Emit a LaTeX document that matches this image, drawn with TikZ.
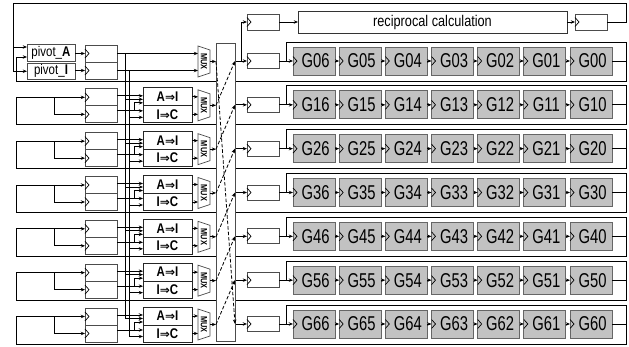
\documentclass[tikz,border=0pt]{standalone}
\usepackage{fontspec}
\setmainfont{Liberation Sans}
\newfontfamily\gfont[FakeStretch=0.74]{Liberation Sans}
\newfontfamily\nfont[FakeStretch=0.82]{Liberation Sans}
\newfontfamily\djv{DejaVu Sans}
\usetikzlibrary{arrows.meta,calc}
\begin{document}
\begin{tikzpicture}[x=1pt,y=-1pt,
  wire/.style={line width=0.75pt,draw=black},
  arr/.style={wire,-{Stealth[length=4.2pt,width=3.4pt]}},
  dasharr/.style={wire,line width=0.8pt,dash pattern=on 3.5pt off 2pt,-{Stealth[length=4.5pt,width=3.5pt]}},
  box/.style={draw=black!70,line width=0.75pt,fill=white,inner sep=0pt,outer sep=0pt},
  reg/.style={box,minimum width=32pt},
  gbox/.style={draw=black!60,line width=0.75pt,fill=black!24,inner sep=0pt,outer sep=0pt,minimum width=42pt,minimum height=28pt,font=\gfont\fontsize{20}{21}\selectfont},
  opbox/.style={box,draw=black!85,minimum width=49pt,font=\nfont\bfseries\fontsize{14}{15}\selectfont},
  muxlbl/.style={rotate=-90,inner sep=0pt,font=\nfont\bfseries\fontsize{9}{9}\selectfont},
  chev/.pic={\draw[line width=0.7pt] (0,-4.5) -- (4,0) -- (0,4.5);},
]
\useasboundingbox (0,0) rectangle (629,346);
\pgfmathsetmacro\cz{61}
\pgfmathsetmacro\cs{61+6*43.83}

% ---------- top: reciprocal path ----------
\node[reg,minimum height=16pt] (T1) at (263,22) {};
\pic at (T1.west) {chev};
\node[box,draw=black!80,minimum width=269pt,minimum height=22pt,font=\nfont\fontsize{15.5}{16}\selectfont] (Rec) at (432.5,22) {reciprocal calculation};
\node[reg,minimum height=16pt] (T2) at (591,22) {};
\pic at (T2.west) {chev};
\draw[arr] (T1.east) -- (Rec.west);
\draw[arr] (Rec.east) -- (T2.west);

% ---------- pivot boxes ----------
\node[box,minimum width=48pt,minimum height=17.5pt,font=\nfont\fontsize{14}{15}\selectfont] (pA) at (51,52.75) {pivot\_\textbf{A}};
\node[box,minimum width=48pt,minimum height=16.5pt,font=\nfont\fontsize{14}{15}\selectfont] (pI) at (51,71.25) {pivot\_\textbf{I}};
\draw[arr] (T2.east) -- (626,22) -- (626,3) -- (13,3) -- (13,71.25) -- (pI.west);
\draw[arr] (13,47) -- (pA.west |- 0,47);

% ---------- left registers ----------
\foreach \i in {0,...,6}{
  \pgfmathsetmacro\c{61+43.83*\i}
  \node[reg,minimum height=17pt] (Ra\i) at (101,\c-7.5) {};
  \node[reg,minimum height=17pt] (Rb\i) at (101,\c+9.5) {};
  \pic at (Ra\i.west) {chev};
  \pic at (Rb\i.west) {chev};
  % mux
  \draw[box] (198,\c-15) -- (210,\c-11) -- (210,\c+12) -- (198,\c+16) -- cycle;
  \node[muxlbl] (Mx\i) at (204,\c+0.5) {MUX};
  \coordinate (MO\i) at (210,\c+0.5);
  \coordinate (VL\i) at (216,\c+0.5);
  \coordinate (VR\i) at (235,\c);
  \draw[arr] (MO\i) -- (VL\i);
}
\draw[arr] (pA.east |- Ra0.west) -- (Ra0.west);
\draw[arr] (pI.east |- Rb0.west) -- (Rb0.west);
\draw[arr] (Ra0.east) -- (198,\cz-7.5);
\draw[arr] (Rb0.east) -- (198,\cz+9.5);
% pivot buses
\draw[wire] (125,\cz-7.5) -- (125,\cs-5.5);
\draw[wire] (129,\cz+9.5) -- (129,\cs+12.5);

\foreach \i in {1,...,6}{
  \pgfmathsetmacro\c{61+43.83*\i}
  \node[opbox,minimum height=18pt] (Ca\i) at (167.5,\c-8) {A{\djv\bfseries\fontsize{12}{13}\selectfont ⇒}I};
  \node[opbox,minimum height=17pt] (Cb\i) at (167.5,\c+9.5) {I{\djv\bfseries\fontsize{12}{13}\selectfont ⇒}C};
  \draw[arr] (Ra\i.east |- 0,\c-9) -- (Ca\i.west |- 0,\c-9);
  \draw[arr] (125,\c-5.5) -- (Ca\i.west |- 0,\c-5.5);
  \draw[arr] (Rb\i.east |- 0,\c+6) -- (Cb\i.west |- 0,\c+6);
  \draw[arr] (134,\c+6) -- (134,\c-2) -- (Ca\i.west |- 0,\c-2);
  \draw[arr] (129,\c+12.5) -- (Cb\i.west |- 0,\c+12.5);
  \draw[arr] (Ca\i.east) -- (198,\c-8);
  \draw[arr] (Cb\i.east) -- (198,\c+9.5);
}

% ---------- right side rows ----------
\foreach \i in {0,...,6}{
  \pgfmathsetmacro\c{61+43.83*\i}
  \node[reg,minimum height=15pt] (S\i) at (263,\c) {};
  \pic at (S\i.west) {chev};
  \foreach \k in {0,...,6}{
    \pgfmathtruncatemacro\j{6-\k}
    \node[gbox] (G\i-\k) at (314+46.17*\k,\c) {\hspace*{3pt}G\i\j};
    \pic at (G\i-\k.west) {chev};
  }
  \foreach \k [evaluate=\k as \kn using int(\k+1)] in {0,...,5}{
    \draw[arr] (G\i-\k.east) -- (G\i-\kn.west);
  }
  \draw[arr] (VR\i) -- (S\i.west);
  \draw[arr] (S\i.east) -- (G\i-0.west);
  \draw[wire] (G\i-6.east) -- (626,\c) -- (626,\c-19) -- (286,\c-19) -- (286,\c);
  \ifnum\i=0
    \draw[arr] (626,\c) -- (626,\c+20) -- (16,\c+20) -- (16,57) -- (pA.west |- 0,57);
  \else
    \draw[arr] (626,\c) -- (626,\c+20) -- (16,\c+20) -- (16,\c-7.5) -- (Ra\i.west);
    \draw[arr] (54,\c-7.5) -- (54,\c+9.5) -- (Rb\i.west);
  \fi
}
\draw[arr] (241,\cz) -- (241,22) -- (T1.west);

% ---------- crossbar ----------
\node[box,draw=black!70,minimum width=19pt,minimum height=298pt] (V) at (225.5,192) {};
\foreach \i [evaluate=\i as \ip using int(\i-1)] in {1,...,6}{
  \draw[dasharr] (VL\i) -- (VR\ip);
}
\draw[dasharr] (VL0) -- (VR6);
\end{tikzpicture}
\end{document}
